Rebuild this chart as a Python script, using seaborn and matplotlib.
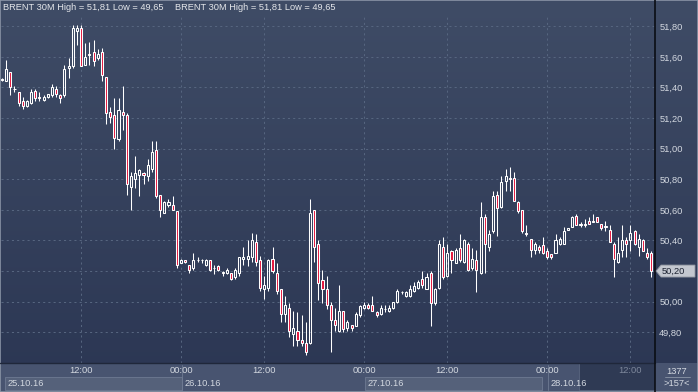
import matplotlib.pyplot as plt
import numpy as np
import seaborn as sns
from matplotlib.colors import LinearSegmentedColormap
from matplotlib.lines import Line2D
from matplotlib.patches import Polygon, Rectangle

# 30 minute candles, BRENT, 25.10.16 - 28.10.16
opens = [51.45, 51.44, 51.50, 51.39, 51.37, 51.31, 51.28, 51.30, 51.38, 51.34,
         51.32, 51.34, 51.35, 51.39, 51.35, 51.35, 51.53, 51.54, 51.77, 51.79,
         51.55, 51.62, 51.63, 51.59, 51.63, 51.47, 51.24, 51.22, 51.06, 51.24,
         51.22, 50.75, 50.80, 50.83, 50.84, 50.82, 50.87, 50.99, 50.70, 50.58,
         50.63, 50.63, 50.59, 50.25, 50.27, 50.24, 50.22, 50.27, 50.27, 50.24,
         50.27, 50.22, 50.23, 50.19, 50.19, 50.19, 50.16, 50.19, 50.28, 50.28,
         50.29, 50.39, 50.27, 50.08, 50.09, 50.28, 50.19, 50.08, 49.92, 49.96,
         49.79, 49.81, 49.75, 49.73, 49.73, 50.60, 50.38, 50.14, 50.08, 49.98,
         49.88, 49.81, 49.94, 49.83, 49.85, 49.84, 49.91, 49.96, 49.98, 49.98,
         49.93, 49.92, 49.95, 49.94, 49.96, 50.00, 50.06, 50.04, 50.04, 50.07,
         50.09, 50.15, 50.08, 50.19, 49.99, 50.09, 50.36, 50.17, 50.33, 50.25,
         50.35, 50.26, 50.38, 50.22, 50.27, 50.19, 50.55, 50.36, 50.46, 50.70,
         50.62, 50.79, 50.81, 50.81, 50.65, 50.60, 50.45, 50.41, 50.34, 50.36,
         50.37, 50.33, 50.31, 50.32, 50.38, 50.38, 50.47, 50.49, 50.56, 50.51,
         50.51, 50.53, 50.52, 50.55, 50.51, 50.49, 50.47, 50.38, 50.26, 50.34,
         50.40, 50.40, 50.46, 50.36, 50.40, 50.32, 50.32]
highs = [51.46, 51.58, 51.50, 51.41, 51.37, 51.34, 51.32, 51.39, 51.39, 51.37,
         51.35, 51.36, 51.42, 51.41, 51.36, 51.55, 51.59, 51.81, 51.81, 51.81,
         51.69, 51.70, 51.71, 51.65, 51.66, 51.47, 51.27, 51.33, 51.33, 51.41,
         51.23, 50.85, 50.95, 50.87, 50.85, 50.93, 51.05, 51.05, 50.70, 50.66,
         50.67, 50.69, 50.59, 50.28, 50.27, 50.24, 50.32, 50.29, 50.28, 50.28,
         50.27, 50.24, 50.24, 50.20, 50.22, 50.19, 50.22, 50.29, 50.36, 50.40,
         50.45, 50.44, 50.30, 50.17, 50.28, 50.36, 50.25, 50.08, 50.04, 49.99,
         49.94, 49.93, 49.91, 49.87, 50.67, 50.60, 50.40, 50.21, 50.17, 50.00,
         49.96, 50.11, 49.94, 49.88, 49.85, 49.93, 49.98, 50.00, 49.99, 50.04,
         49.94, 49.98, 49.98, 49.98, 50.00, 50.08, 50.07, 50.07, 50.11, 50.13,
         50.14, 50.20, 50.19, 50.20, 50.09, 50.40, 50.42, 50.38, 50.34, 50.35,
         50.44, 50.41, 50.39, 50.35, 50.34, 50.65, 50.57, 50.47, 50.72, 50.72,
         50.82, 50.87, 50.88, 50.85, 50.66, 50.60, 50.50, 50.41, 50.39, 50.37,
         50.42, 50.35, 50.31, 50.44, 50.42, 50.49, 50.48, 50.56, 50.57, 50.52,
         50.54, 50.55, 50.57, 50.55, 50.51, 50.53, 50.50, 50.39, 50.42, 50.50,
         50.42, 50.50, 50.47, 50.44, 50.41, 50.35, 50.33]
lows = [51.44, 51.44, 51.35, 51.37, 51.28, 51.26, 51.27, 51.29, 51.31, 51.31,
        51.31, 51.33, 51.34, 51.34, 51.30, 51.34, 51.46, 51.53, 51.68, 51.54,
        51.55, 51.55, 51.54, 51.58, 51.44, 51.16, 51.17, 51.00, 51.05, 51.12,
        50.70, 50.60, 50.74, 50.69, 50.77, 50.79, 50.85, 50.68, 50.55, 50.58,
        50.62, 50.60, 50.22, 50.25, 50.25, 50.19, 50.21, 50.26, 50.25, 50.23,
        50.20, 50.18, 50.20, 50.17, 50.18, 50.14, 50.15, 50.17, 50.24, 50.23,
        50.26, 50.23, 50.07, 50.02, 50.07, 50.19, 50.05, 49.87, 49.87, 49.77,
        49.71, 49.71, 49.71, 49.65, 49.72, 50.26, 50.01, 49.99, 49.95, 49.67,
        49.81, 49.80, 49.80, 49.81, 49.81, 49.84, 49.90, 49.95, 49.95, 49.94,
        49.90, 49.91, 49.93, 49.93, 49.95, 49.99, 50.05, 50.03, 50.03, 50.06,
        50.08, 50.09, 50.08, 49.84, 49.98, 50.08, 50.15, 50.16, 50.19, 50.25,
        50.26, 50.25, 50.20, 50.21, 50.06, 50.18, 50.19, 50.33, 50.45, 50.43,
        50.61, 50.72, 50.72, 50.66, 50.58, 50.45, 50.43, 50.29, 50.31, 50.32,
        50.31, 50.28, 50.28, 50.32, 50.37, 50.38, 50.47, 50.49, 50.50, 50.49,
        50.49, 50.51, 50.52, 50.52, 50.47, 50.46, 50.39, 50.16, 50.25, 50.29,
        50.29, 50.33, 50.37, 50.30, 50.33, 50.28, 50.16]
closes = [51.45, 51.52, 51.40, 51.39, 51.30, 51.28, 51.31, 51.37, 51.33, 51.33,
          51.34, 51.36, 51.40, 51.36, 51.33, 51.52, 51.54, 51.79, 51.79, 51.54,
          51.60, 51.61, 51.57, 51.62, 51.48, 51.23, 51.21, 51.07, 51.25, 51.22,
          50.77, 50.82, 50.84, 50.86, 50.83, 50.89, 50.98, 50.69, 50.60, 50.65,
          50.65, 50.60, 50.24, 50.27, 50.26, 50.21, 50.27, 50.27, 50.27, 50.27,
          50.21, 50.22, 50.21, 50.19, 50.21, 50.15, 50.21, 50.29, 50.29, 50.30,
          50.40, 50.26, 50.09, 50.11, 50.27, 50.20, 50.07, 49.92, 49.98, 49.81,
          49.83, 49.75, 49.73, 49.67, 50.58, 50.36, 50.12, 50.08, 49.98, 49.88,
          49.85, 49.94, 49.82, 49.87, 49.83, 49.92, 49.97, 49.98, 49.96, 49.94,
          49.91, 49.96, 49.95, 49.96, 50.00, 50.07, 50.06, 50.06, 50.08, 50.10,
          50.13, 50.11, 50.16, 49.99, 50.08, 50.38, 50.16, 50.32, 50.27, 50.34,
          50.27, 50.40, 50.21, 50.28, 50.21, 50.55, 50.38, 50.44, 50.69, 50.61,
          50.78, 50.82, 50.80, 50.66, 50.59, 50.46, 50.44, 50.34, 50.38, 50.34,
          50.32, 50.29, 50.29, 50.40, 50.41, 50.46, 50.48, 50.55, 50.50, 50.50,
          50.50, 50.51, 50.53, 50.52, 50.48, 50.49, 50.39, 50.28, 50.32, 50.40,
          50.38, 50.45, 50.38, 50.41, 50.33, 50.29, 50.20]

price_ticks = [49.8, 50.0, 50.2, 50.4, 50.6, 50.8, 51.0, 51.2, 51.4, 51.6, 51.8]
time_ticks = [19, 43, 63, 87, 107, 131, 151]
time_labels = ['12:00', '00:00', '12:00', '00:00', '12:00', '00:00', '12:00']
day_labels = ['25.10.16', '26.10.16', '27.10.16', '28.10.16']
title = 'BRENT 30M High = 51,81 Low = 49,65'
bar_total = '1377'
bars_visible = '>157<'

W, H = 698, 392


def fx(px):
    return px / W


def fy(py):
    # py measured from the top of the image
    return 1 - py / H


def price_fmt(v):
    return f'{v:.2f}'.replace('.', ',')


sns.set_style('dark')
plt.rcParams['font.family'] = ['Liberation Sans', 'DejaVu Sans']
FS = 6.7
TXT = '#d3d8e0'

fig = plt.figure(figsize=(W / 100, H / 100), dpi=100)

# gradient background for the whole widget
bg = fig.add_axes([0, 0, 1, 1], zorder=-10)
cmap = LinearSegmentedColormap.from_list('bg', ['#3f4c66', '#2b3653'])
bg.imshow(np.linspace(0, 1, 256).reshape(-1, 1), cmap=cmap, aspect='auto',
          extent=[0, 1, 0, 1])
bg.set_axis_off()

ax = fig.add_axes([fx(1), fy(363), fx(654), (363 - 16) / H])
ax.patch.set_alpha(0)
for s in ax.spines.values():
    s.set_visible(False)

x = np.arange(len(opens))
o = np.array(opens)
c = np.array(closes)
hi = np.array(highs)
lo = np.array(lows)
top = np.maximum(o, c)
bot = np.minimum(o, c)
up = c >= o

ax.set_xlim(-0.24, 156.9)
ax.set_ylim(49.599, 51.867)

# grid
ax.hlines(price_ticks, -0.24, 156.9, colors='#56657f', linewidth=0.75,
          linestyles=(0, (2, 3)), zorder=1)
ax.vlines(time_ticks, 49.599, 51.867, colors='#56657f', linewidth=0.75,
          linestyles=(0, (2, 3)), zorder=1)

# wicks
ax.vlines(x, top, hi, colors='white', linewidth=0.75, zorder=2)
ax.vlines(x, lo, bot, colors='white', linewidth=0.75, zorder=2)

# bodies
hgt = np.maximum(top - bot, 0.002)
ax.bar(x[up], hgt[up], bottom=bot[up], width=0.5, facecolor='none',
       edgecolor='white', linewidth=0.75, zorder=3)
ax.bar(x[~up], hgt[~up], bottom=bot[~up], width=0.5, facecolor='#e3173e',
       edgecolor='white', linewidth=0.75, zorder=3)

# right price axis (the last price tag takes the place of its own level)
last_price = closes[-1]
ax.yaxis.tick_right()
ax.set_yticks(price_ticks)
ax.set_yticklabels(['' if abs(v - round(last_price, 1)) < 1e-9 else price_fmt(v)
                    for v in price_ticks])
ax.tick_params(axis='y', length=0, pad=3, labelsize=FS, labelcolor=TXT)

# bottom time axis
ax.set_xticks(time_ticks)
ax.set_xticklabels(time_labels)
ax.tick_params(axis='x', length=0, pad=2.5, labelsize=FS, labelcolor=TXT)
ax.get_xticklabels()[-1].set_color('#7e889c')

# time axis band
fig.add_artist(Rectangle((0, 0), 1, fy(363), transform=fig.transFigure,
                         facecolor='#485470', edgecolor='none', zorder=-5))
fig.add_artist(Rectangle((fx(579), fy(390)), fx(655 - 579), (390 - 363) / H,
                         transform=fig.transFigure, facecolor='#2f3a54',
                         edgecolor='#5a6680', linewidth=0.6, zorder=-4))
day_px = [5, 182, 365, 548]
for i, (d, lab) in enumerate(zip(day_px, day_labels)):
    if i % 2 == 0:
        fig.add_artist(Rectangle((fx(d), fy(390)), fx(177), 13 / H,
                                 transform=fig.transFigure,
                                 facecolor='#55617a', edgecolor='#6e7a92',
                                 linewidth=0.6, zorder=-3))
    else:
        fig.add_artist(Line2D([fx(d), fx(d)], [fy(390), fy(365)],
                              color='#6e7a92', linewidth=0.6, zorder=-3))
    fig.text(fx(d + 3), fy(383.5), lab, fontsize=FS, color=TXT,
             ha='left', va='center')

fig.add_artist(Line2D([0, fx(655)], [fy(363), fy(363)], color='#1f273a',
                      linewidth=1.0))
fig.add_artist(Line2D([fx(655), fx(655)], [0, 1], color='#0a0d14',
                      linewidth=1.2))

# bar counter
fig.text(fx(677), fy(371), bar_total, fontsize=FS, color=TXT,
         ha='center', va='center')
fig.add_artist(Line2D([fx(665), fx(690)], [fy(377), fy(377)],
                      color='#8c96a8', linewidth=0.6))
fig.text(fx(677), fy(384), bars_visible, fontsize=FS, color=TXT,
         ha='center', va='center')

# header
fig.text(fx(3), fy(8), title, fontsize=FS, color='#e4e6ea', va='center')
fig.text(fx(175), fy(8), title, fontsize=FS, color='#e4e6ea', va='center')

# last price marker
fig.canvas.draw()
py = ax.transData.transform((0, last_price))[1]
marker = Polygon([(656, py), (661, py + 6), (695, py + 6), (695, py - 6),
                  (661, py - 6)], closed=True, transform=None,
                 facecolor='#c3c7cf', edgecolor='#8d939e', linewidth=0.6,
                 zorder=5)
fig.add_artist(marker)
fig.text(fx(662), py / H, price_fmt(last_price),
         fontsize=FS, color='#1b2130', va='center', ha='left', zorder=6)

# outer frame
fig.add_artist(Rectangle((0, 0), 1, 1, transform=fig.transFigure,
                         facecolor='none', edgecolor='#8a94a6',
                         linewidth=1.2))

fig.savefig('out.png', dpi=100)
